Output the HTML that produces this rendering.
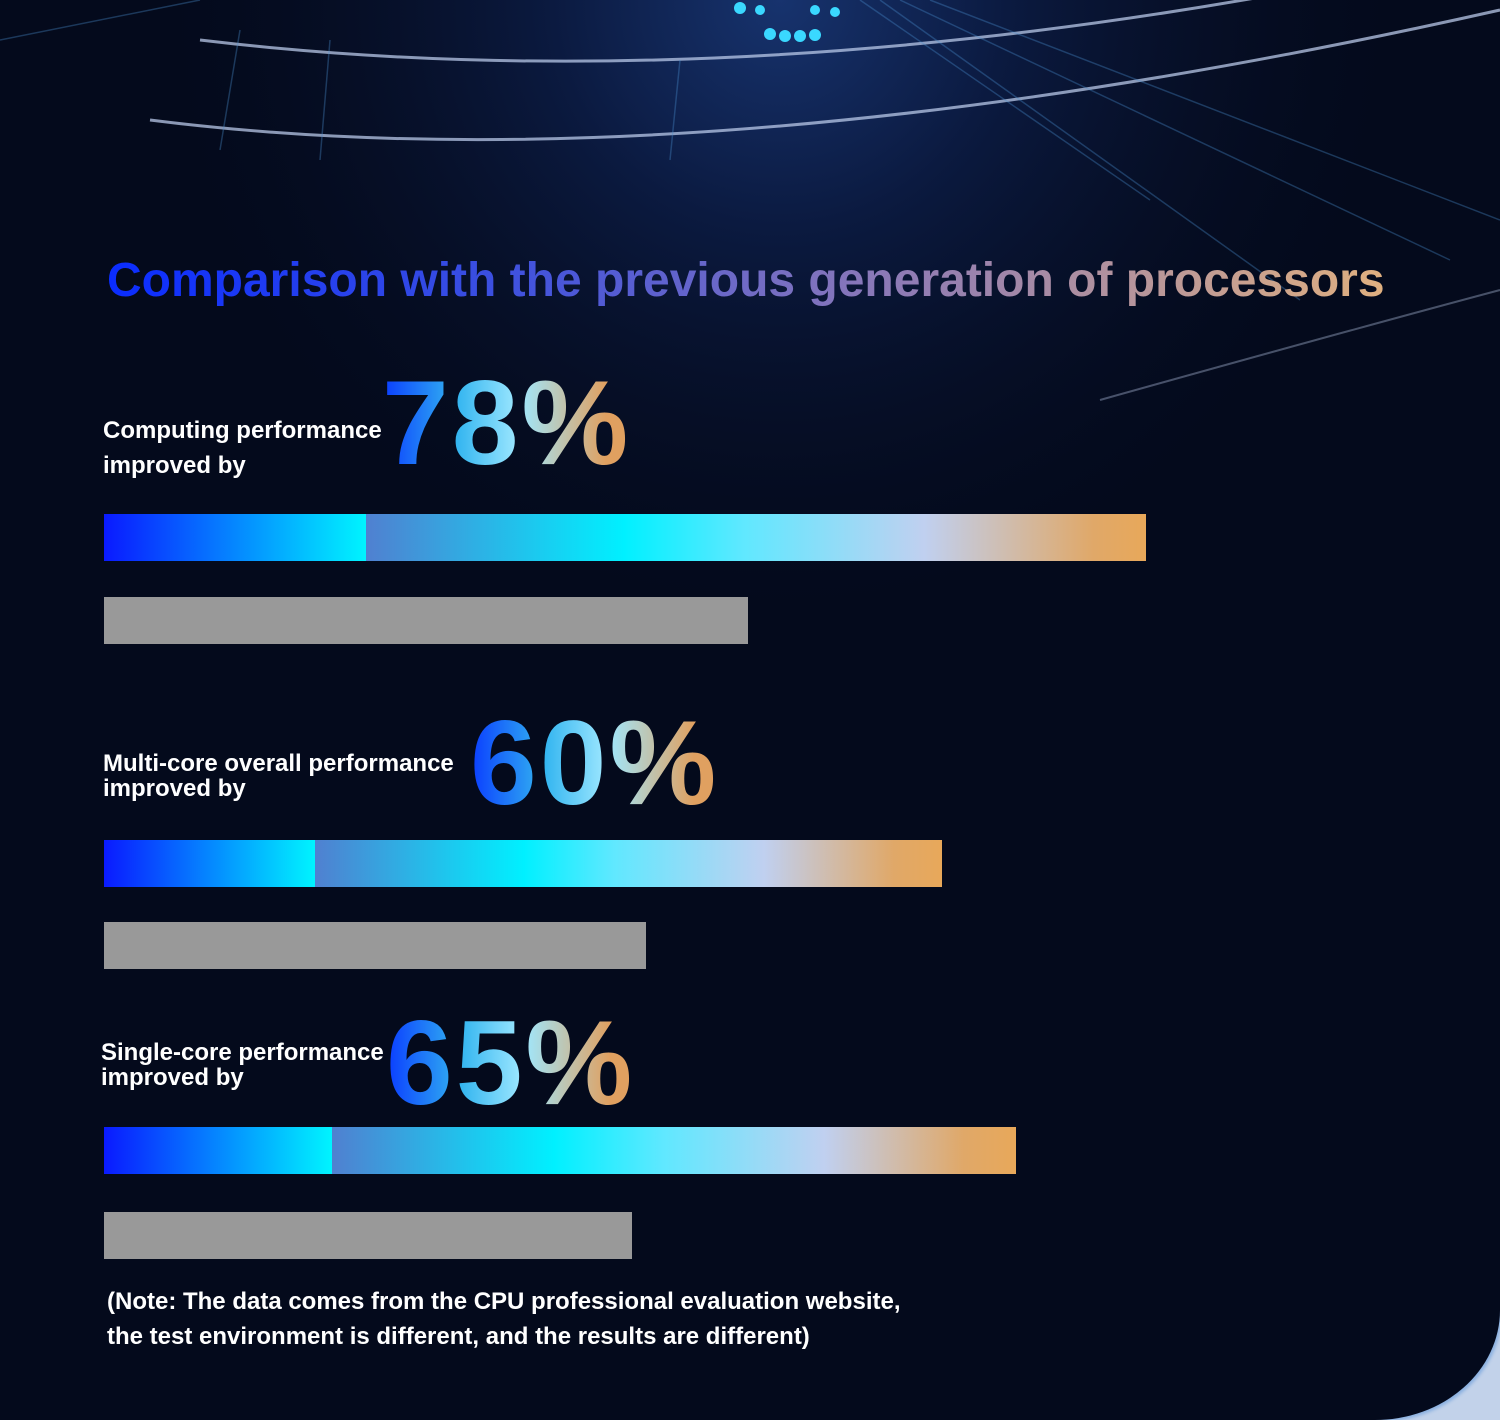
<!DOCTYPE html>
<html><head><meta charset="utf-8"><style>
html,body{margin:0;padding:0;width:1500px;height:1420px;overflow:hidden}
body{position:relative;background:#c2d2ea;font-family:"Liberation Sans",sans-serif}
.dark{position:absolute;left:0;top:0;width:1500px;height:1420px;background:#040a1c;border-bottom-right-radius:125px 110px;box-shadow:2px 2px 3px #8ab0e0}
.bg{position:absolute;left:0;top:0;width:1500px;height:1420px}
.title{position:absolute;left:107px;top:253px;font-size:48px;font-weight:bold;white-space:nowrap;letter-spacing:0px;
background:linear-gradient(90deg,#0a2cff 0%,#3b4fe0 30%,#8a78b8 60%,#e0b080 100%);-webkit-background-clip:text;background-clip:text;color:transparent}
.lab{position:absolute;color:#fff;font-weight:bold;font-size:24px;line-height:35px;white-space:nowrap}
.pct{position:absolute;font-size:120px;font-weight:bold;letter-spacing:3px;white-space:nowrap;line-height:1;
background:linear-gradient(90deg,#0a3cff 0%,#33b5f0 30%,#9fe8ff 55%,#e0a060 90%);-webkit-background-clip:text;background-clip:text;color:transparent}
.bar{position:absolute;height:47px;left:104px}
.grey{position:absolute;height:47px;left:104px;background:#999}
.note{position:absolute;left:107px;top:1284px;color:#fff;font-weight:bold;font-size:24px;line-height:35px;white-space:nowrap}
</style></head><body>
<div class="dark"></div>
<svg class="bg" viewBox="0 0 1500 1420">
<defs>
<radialGradient id="g1" cx="780" cy="0" r="650" gradientUnits="userSpaceOnUse">
<stop offset="0" stop-color="#17336e"/><stop offset="0.35" stop-color="#0b1a40"/><stop offset="1" stop-color="#040a1c" stop-opacity="0"/></radialGradient>
</defs>
<rect width="1500" height="700" fill="url(#g1)"/>
<g fill="none" stroke="#b8c8e8" stroke-width="3" opacity="0.75">
<path d="M200 40 Q700 100 1300 -10"/>
<path d="M150 120 Q700 190 1500 10"/>
<path d="M1100 400 Q1350 330 1500 290" stroke-width="2" opacity="0.5"/>
</g>
<g stroke="#4a90d0" stroke-width="1.5" opacity="0.35">
<line x1="900" y1="0" x2="1450" y2="260"/><line x1="930" y1="0" x2="1500" y2="220"/>
<line x1="880" y1="0" x2="1300" y2="300"/><line x1="860" y1="0" x2="1150" y2="200"/>
<line x1="240" y1="30" x2="220" y2="150"/><line x1="330" y1="40" x2="320" y2="160"/>
<line x1="680" y1="60" x2="670" y2="160"/><line x1="0" y1="40" x2="200" y2="0"/>
</g>
<g fill="#3ad8ff">
<circle cx="770" cy="34" r="6"/><circle cx="785" cy="36" r="6"/><circle cx="800" cy="36" r="6"/><circle cx="815" cy="35" r="6"/>
<circle cx="740" cy="8" r="6"/><circle cx="760" cy="10" r="5"/><circle cx="815" cy="10" r="5"/><circle cx="835" cy="12" r="5"/>
</g>
</svg>
<div class="title">Comparison with the previous generation of processors</div>

<div class="lab" style="left:103px;top:413px">Computing performance<br>improved by</div>
<div class="pct" style="left:382px;top:363px">78%</div>
<div class="bar" style="top:514px;width:1042px;background:linear-gradient(90deg,#0a1aff 0px,#00f4ff 262px,#5080d0 262px,#00f0ff 520px,#60e8ff 640px,#c0d0f0 820px,#e0a868 990px,#e8a85a 1042px)"></div>
<div class="grey" style="top:597px;width:644px"></div>

<div class="lab" style="left:103px;top:751px;line-height:25px">Multi-core overall performance<br>improved by</div>
<div class="pct" style="left:470px;top:703px">60%</div>
<div class="bar" style="top:840px;width:838px;background:linear-gradient(90deg,#0a1aff 0px,#00f4ff 211px,#5080d0 211px,#00f0ff 420px,#60e8ff 510px,#c0d0f0 660px,#e0a868 790px,#e8a85a 838px)"></div>
<div class="grey" style="top:922px;width:542px"></div>

<div class="lab" style="left:101px;top:1040px;line-height:25px">Single-core performance<br>improved by</div>
<div class="pct" style="left:386px;top:1003px">65%</div>
<div class="bar" style="top:1127px;width:912px;background:linear-gradient(90deg,#0a1aff 0px,#00f4ff 228px,#5080d0 228px,#00f0ff 450px,#60e8ff 560px,#c0d0f0 720px,#e0a868 860px,#e8a85a 912px)"></div>
<div class="grey" style="top:1212px;width:528px"></div>

<div class="note">(Note: The data comes from the CPU professional evaluation website,<br>the test environment is different, and the results are different)</div>
</body></html>
